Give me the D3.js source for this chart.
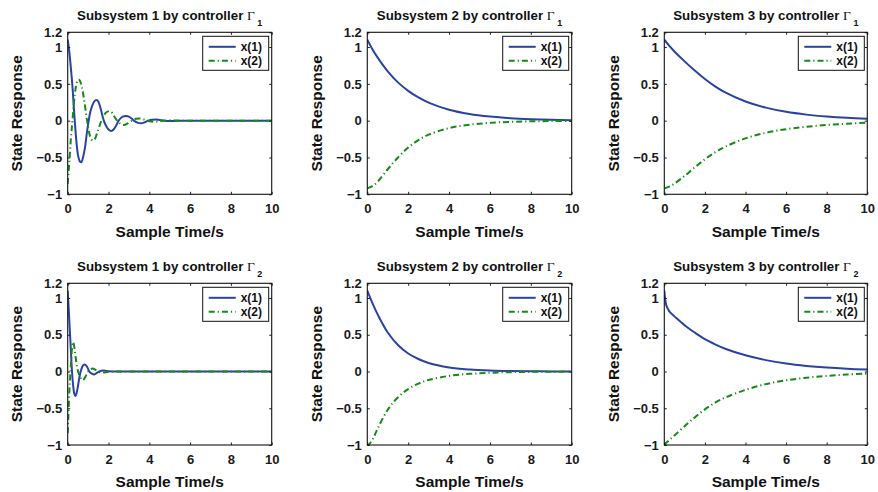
<!DOCTYPE html>
<html>
<head>
<meta charset="utf-8">
<script src="https://cdn.jsdelivr.net/npm/d3@7"></script>
<style>
  html, body { margin: 0; padding: 0; background: #fff; }
  svg { display: block; }
</style>
</head>
<body>
<script>
// ---------------- DATA ----------------
const xTicks = [0, 2, 4, 6, 8, 10];
const yTicks = [-1, -0.5, 0, 0.5, 1, 1.2];
const subsystemNames = ["Subsystem 1", "Subsystem 2", "Subsystem 3"];
const controllerSubs = ["1", "2"];
const legendLabels = ["x(1)", "x(2)"];

// Subsystem 1, controller Γ1
const s1g1_t1 = [0,0.05,0.1,0.15,0.2,0.25,0.3,0.35,0.4,0.45,0.5,0.55,0.6,0.67,0.75,0.85,0.95,1.03,1.1,1.2,1.3,1.41,1.5,1.6,1.7,1.77,1.9,2.0,2.14,2.25,2.35,2.5,2.6,2.7,2.85,3.0,3.15,3.3,3.45,3.6,3.75,3.95,4.15,4.35,4.6,4.85,5.2,5.6,6,7,8,9,10];
const s1g1_x1 = [1.10,1.00,0.88,0.73,0.58,0.40,0.18,-0.02,-0.20,-0.35,-0.46,-0.52,-0.555,-0.565,-0.50,-0.36,-0.145,0.0,0.11,0.20,0.26,0.28,0.26,0.18,0.07,0.0,-0.08,-0.12,-0.14,-0.12,-0.08,0.0,0.035,0.055,0.065,0.055,0.025,-0.01,-0.03,-0.035,-0.025,0.0,0.012,0.015,0.006,-0.003,-0.004,0,0,0,0,0,0];
const s1g1_t2 = [0,0.05,0.1,0.15,0.2,0.25,0.3,0.35,0.4,0.47,0.54,0.62,0.7,0.8,0.9,0.95,1.05,1.15,1.25,1.35,1.45,1.55,1.65,1.75,1.9,2.05,2.2,2.3,2.42,2.6,2.75,2.9,3.05,3.15,3.35,3.5,3.7,3.9,4.1,4.3,4.6,5.0,5.5,6,7,8,9,10];
const s1g1_x2 = [-0.86,-0.67,-0.48,-0.27,-0.10,0.06,0.23,0.36,0.46,0.54,0.56,0.53,0.45,0.29,0.10,0.0,-0.16,-0.25,-0.27,-0.24,-0.16,-0.08,0.0,0.06,0.115,0.13,0.10,0.05,0.0,-0.045,-0.06,-0.045,-0.015,0.0,0.025,0.03,0.02,0.0,-0.012,-0.015,-0.005,0.004,0,0,0,0,0,0];

// Subsystem 1, controller Γ2
const s1g2_t1 = [0,0.05,0.1,0.15,0.21,0.27,0.32,0.38,0.45,0.52,0.6,0.68,0.76,0.84,0.95,1.06,1.18,1.31,1.43,1.55,1.76,2.0,2.3,3,4,5,6,7,8,9,10];
const s1g2_x1 = [1.10,0.85,0.58,0.32,0.0,-0.20,-0.30,-0.335,-0.28,-0.17,-0.04,0.04,0.085,0.095,0.065,0.0,-0.03,-0.04,-0.02,0.0,0.012,0.005,0,0,0,0,0,0,0,0,0];
const s1g2_t2 = [0,0.04,0.08,0.12,0.16,0.21,0.26,0.32,0.4,0.46,0.51,0.6,0.74,0.87,1.0,1.12,1.23,1.35,1.47,1.7,2.0,2.4,3,4,5,6,7,8,9,10];
const s1g2_x2 = [-0.84,-0.55,-0.28,-0.08,0.10,0.32,0.40,0.34,0.17,0.06,0.0,-0.07,-0.117,-0.07,0.0,0.03,0.04,0.025,0.0,-0.015,-0.005,0,0,0,0,0,0,0,0,0];

// Subsystems 2 and 3 (slow responses)
const tSlow = [0,0.25,0.5,1,1.5,2,2.5,3,4,5,6,7,8,9,10];
const s2g1_x1 = [1.10,0.97,0.86,0.67,0.52,0.405,0.315,0.245,0.148,0.09,0.055,0.033,0.02,0.012,0.007];
const s2g1_x2 = [-0.92,-0.89,-0.83,-0.66,-0.50,-0.365,-0.265,-0.19,-0.10,-0.055,-0.03,-0.016,-0.009,-0.005,-0.003];
const s3g1_x1 = [1.10,1.015,0.94,0.805,0.68,0.565,0.465,0.383,0.26,0.177,0.12,0.082,0.056,0.038,0.026];
const s3g1_x2 = [-0.92,-0.895,-0.855,-0.75,-0.635,-0.525,-0.43,-0.355,-0.24,-0.165,-0.116,-0.083,-0.059,-0.041,-0.028];
const s2g2_x1 = [1.10,0.93,0.78,0.53,0.36,0.245,0.17,0.115,0.055,0.027,0.013,0.006,0.003,0.0015,0.001];
const s2g2_x2 = [-1.02,-0.93,-0.78,-0.52,-0.35,-0.24,-0.165,-0.115,-0.06,-0.032,-0.017,-0.009,-0.005,-0.003,-0.001];
const tS3G2 = [0,0.05,0.1,0.2,0.3,0.5,1,1.5,2,2.5,3,4,5,6,7,8,9,10];
const s3g2_x1 = [1.10,0.97,0.90,0.84,0.80,0.75,0.63,0.53,0.44,0.37,0.31,0.22,0.155,0.108,0.076,0.053,0.037,0.026];
const s3g2_x2 = [-1.00,-0.985,-0.97,-0.945,-0.92,-0.87,-0.745,-0.625,-0.515,-0.425,-0.355,-0.25,-0.172,-0.12,-0.085,-0.06,-0.041,-0.028];

// panels: [row][col]
const panels = [
  [ {t1:s1g1_t1, x1:s1g1_x1, t2:s1g1_t2, x2:s1g1_x2, osc:true},
    {t1:tSlow, x1:s2g1_x1, t2:tSlow, x2:s2g1_x2},
    {t1:tSlow, x1:s3g1_x1, t2:tSlow, x2:s3g1_x2} ],
  [ {t1:s1g2_t1, x1:s1g2_x1, t2:s1g2_t2, x2:s1g2_x2, osc:true},
    {t1:tSlow, x1:s2g2_x1, t2:tSlow, x2:s2g2_x2},
    {t1:tS3G2, x1:s3g2_x1, t2:tS3G2, x2:s3g2_x2} ]
];

// ---------------- LAYOUT ----------------
const W = 878, H = 492;
const colL = [67.7, 367.3, 664.3];
const colR = [271.7, 571.7, 867.3];
const rowT = [32.3, 283.3];
const rowB = [194.3, 445];
const FONT = "'Liberation Sans', Arial, Helvetica, sans-serif";
const BLUE = "#2a43a3";
const GREEN = "#168a16";

const svg = d3.select("body").append("svg")
  .attr("width", W).attr("height", H)
  .style("font-family", FONT);

const fmt = d => (d < 0 ? "\u2212" : "") + Math.abs(d);

panels.forEach((row, r) => {
  row.forEach((p, c) => {
    const L = colL[c], R = colR[c], T = rowT[r], B = rowB[r];
    const x = d3.scaleLinear().domain([0, 10]).range([L, R]);
    const y = d3.scaleLinear().domain([-1, 1.2]).range([B, T]);
    const g = svg.append("g");
    const clipId = `clip-${r}-${c}`;
    svg.append("clipPath").attr("id", clipId)
      .append("rect").attr("x", L).attr("y", T).attr("width", R - L).attr("height", B - T);

    // lines
    const line = d3.line().x(d => x(d[0])).y(d => y(d[1]))
      .curve(p.osc ? d3.curveMonotoneX : d3.curveCatmullRom.alpha(0.5));
    const plot = g.append("g").attr("clip-path", `url(#${clipId})`);
    plot.append("path")
      .attr("d", line(d3.zip(p.t1, p.x1)))
      .attr("fill", "none").attr("stroke", BLUE).attr("stroke-width", 2);
    plot.append("path")
      .attr("d", line(d3.zip(p.t2, p.x2)))
      .attr("fill", "none").attr("stroke", GREEN).attr("stroke-width", 2)
      .attr("stroke-dasharray", "6,3,1.2,3");

    // axes
    const tk = 2.5;
    const ax = g.append("g").attr("transform", `translate(0,${B})`)
      .call(d3.axisBottom(x).tickValues(xTicks).tickFormat(fmt).tickSizeInner(-tk).tickSizeOuter(0).tickPadding(9.5));
    const ay = g.append("g").attr("transform", `translate(${L},0)`)
      .call(d3.axisLeft(y).tickValues(yTicks).tickFormat(fmt).tickSizeInner(-tk).tickSizeOuter(0).tickPadding(5.5));
    const at = g.append("g").attr("transform", `translate(0,${T})`)
      .call(d3.axisTop(x).tickValues(xTicks).tickFormat("").tickSizeInner(-tk).tickSizeOuter(0));
    const ar = g.append("g").attr("transform", `translate(${R},0)`)
      .call(d3.axisRight(y).tickValues(yTicks).tickFormat("").tickSizeInner(-tk).tickSizeOuter(0));
    [ax, ay, at, ar].forEach(a => {
      a.selectAll(".domain").remove();
      a.selectAll(".tick line").attr("stroke", "#222").attr("stroke-width", 1);
      a.selectAll("text").attr("font-family", FONT).attr("font-weight", "bold")
        .attr("font-size", 13).attr("fill", "#1a1a1a");
    });
    g.append("rect").attr("x", L).attr("y", T).attr("width", R - L).attr("height", B - T)
      .attr("fill", "none").attr("stroke", "#111").attr("stroke-width", 1.1);

    // title
    const title = g.append("text")
      .attr("x", (L + R) / 2).attr("y", T - 12.5)
      .attr("text-anchor", "middle")
      .attr("font-weight", "bold").attr("font-size", 13.3).attr("fill", "#111");
    title.append("tspan").text(`${subsystemNames[c]} by controller `);
    title.append("tspan").attr("font-family", "'Liberation Serif', 'Times New Roman', serif")
      .attr("font-weight", "normal").attr("font-size", 13.5).text("\u0393");
    title.append("tspan").attr("dx", 2.5).attr("dy", 6.5).attr("font-size", 9)
      .text(controllerSubs[r]);

    // axis labels
    g.append("text")
      .attr("x", (L + R) / 2).attr("y", B + 37).attr("dy", "0.35em")
      .attr("text-anchor", "middle").attr("font-weight", "bold").attr("font-size", 15.5)
      .attr("fill", "#111").text("Sample Time/s");
    g.append("text")
      .attr("transform", `translate(${L - 51},${(T + B) / 2}) rotate(-90)`)
      .attr("dy", "0.35em")
      .attr("text-anchor", "middle").attr("font-weight", "bold").attr("font-size", 15.5)
      .attr("fill", "#111").text("State Response");

    // legend
    const lw = 66, lh = 34;
    const lx = R - 3 - lw, ly = T + 4;
    const lg = g.append("g");
    lg.append("rect").attr("x", lx).attr("y", ly).attr("width", lw).attr("height", lh)
      .attr("fill", "#fff").attr("stroke", "#111").attr("stroke-width", 1);
    [[BLUE, null], [GREEN, "6,3,1.2,3"]].forEach((s, i) => {
      const yy = ly + 10.5 + i * 14;
      const ln = lg.append("line").attr("x1", lx + 6).attr("x2", lx + 33)
        .attr("y1", yy).attr("y2", yy).attr("stroke", s[0]).attr("stroke-width", 2);
      if (s[1]) ln.attr("stroke-dasharray", s[1]);
      lg.append("text").attr("x", lx + 38).attr("y", yy).attr("dy", "0.36em")
        .attr("font-weight", "bold").attr("font-size", 12).attr("fill", "#111")
        .text(legendLabels[i]);
    });
  });
});
</script>
</body>
</html>
